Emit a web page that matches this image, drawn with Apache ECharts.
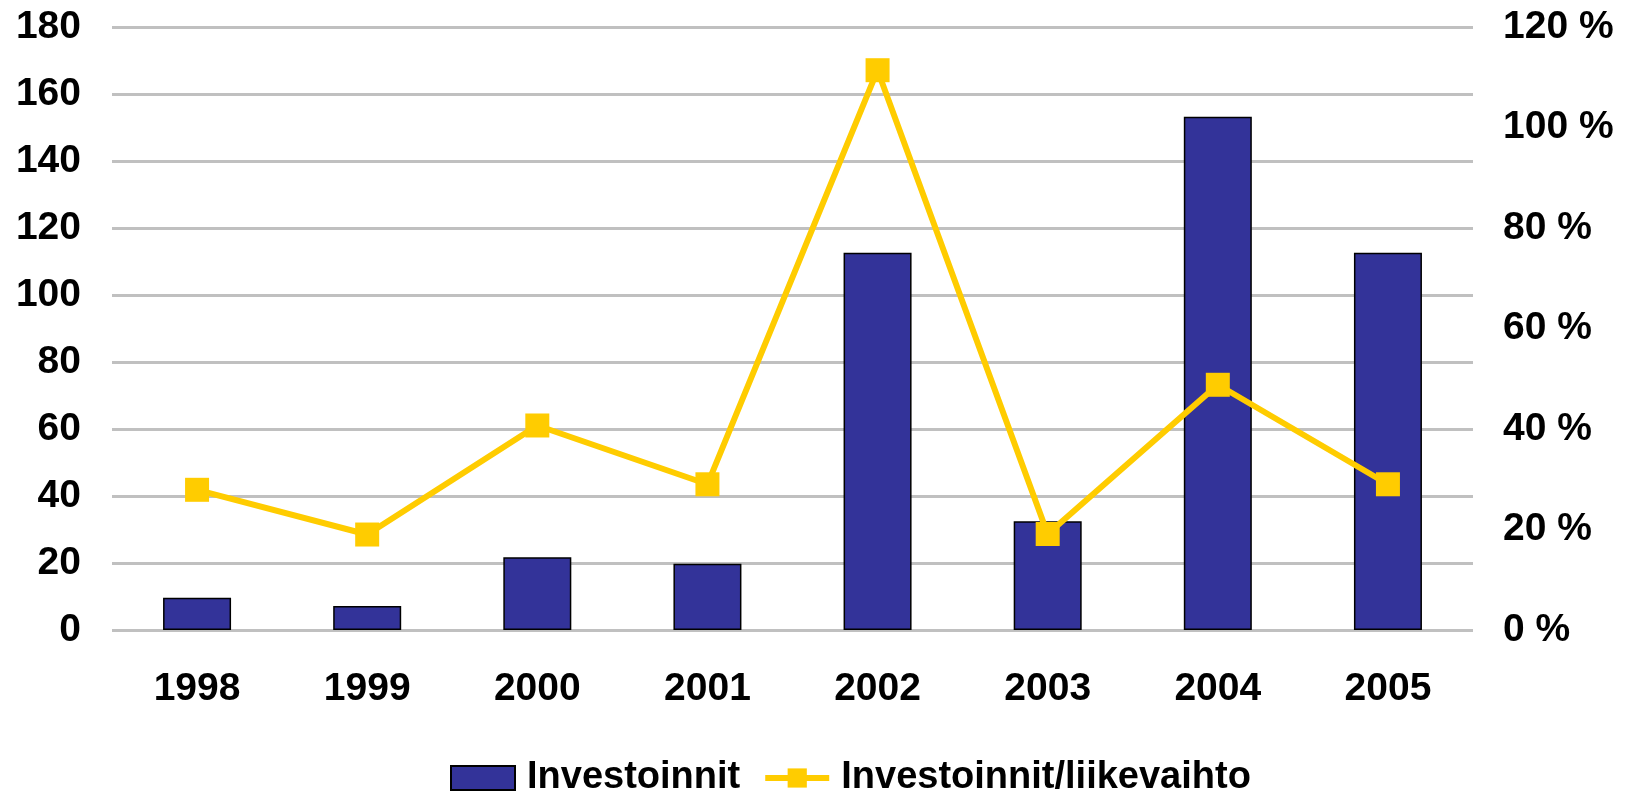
<!DOCTYPE html>
<html>
<head>
<meta charset="utf-8">
<script src="https://cdn.jsdelivr.net/npm/echarts@6/dist/echarts.min.js"></script>
<style>
html, body { margin: 0; padding: 0; background: #fff; }
#chart { width: 1628px; height: 793px; }
</style>
</head>
<body>
<div id="chart"></div>
<script>
// data
var years = ['1998', '1999', '2000', '2001', '2002', '2003', '2004', '2005'];
var investoinnit = [9.6, 7.2, 21.7, 19.8, 112.6, 32.5, 153.2, 112.6];
var osuus = [27.9, 19.0, 40.7, 29.0, 111.4, 19.1, 48.8, 29.0]; // %
var leftTicks = { min: 0, max: 180, interval: 20 };
var rightTicks = { min: 0, max: 120, interval: 20 };

var font = 'Liberation Sans, Arial, sans-serif';
var chart = echarts.init(document.getElementById('chart'));

chart.setOption({
    animation: false,
    grid: { left: 112, right: 155, top: 27, bottom: 163 },
    legend: {
        left: 450,
        top: 759,
        padding: 0,
        itemWidth: 64,
        itemHeight: 24,
        itemGap: 22,
        textStyle: {
            fontFamily: font,
            fontWeight: 'bold',
            fontSize: 38,
            lineHeight: 24,
            color: '#000',
            padding: [0, 0, 0, 7]
        },
        data: [
            { name: 'Investoinnit', icon: 'rect' },
            {
                name: 'Investoinnit/liikevaihto',
                lineStyle: { width: 6 }
            }
        ]
    },
    xAxis: {
        type: 'category',
        data: years,
        axisLine: { show: false },
        axisTick: { show: false },
        axisLabel: {
            margin: 40,
            fontFamily: font,
            fontWeight: 'bold',
            fontSize: 39,
            color: '#000'
        }
    },
    yAxis: [
        {
            type: 'value',
            min: leftTicks.min,
            max: leftTicks.max,
            interval: leftTicks.interval,
            axisLine: { show: false },
            axisTick: { show: false },
            splitLine: {
                show: true,
                lineStyle: { color: '#c0c0c0', width: 3 }
            },
            axisLabel: {
                margin: 31,
                fontFamily: font,
                fontWeight: 'bold',
                fontSize: 39,
                color: '#000'
            }
        },
        {
            type: 'value',
            position: 'right',
            min: rightTicks.min,
            max: rightTicks.max,
            interval: rightTicks.interval,
            axisLine: { show: false },
            axisTick: { show: false },
            splitLine: { show: false },
            axisLabel: {
                margin: 30,
                formatter: '{value} %',
                fontFamily: font,
                fontWeight: 'bold',
                fontSize: 39,
                color: '#000'
            }
        }
    ],
    series: [
        {
            name: 'Investoinnit',
            type: 'bar',
            barWidth: 68,
            itemStyle: {
                color: '#333399',
                borderColor: '#000',
                borderWidth: 1.5
            },
            data: investoinnit
        },
        {
            name: 'Investoinnit/liikevaihto',
            type: 'line',
            yAxisIndex: 1,
            symbol: 'rect',
            symbolSize: 24,
            lineStyle: { color: '#ffcc00', width: 6 },
            itemStyle: { color: '#ffcc00' },
            data: osuus
        }
    ]
});
</script>
</body>
</html>
